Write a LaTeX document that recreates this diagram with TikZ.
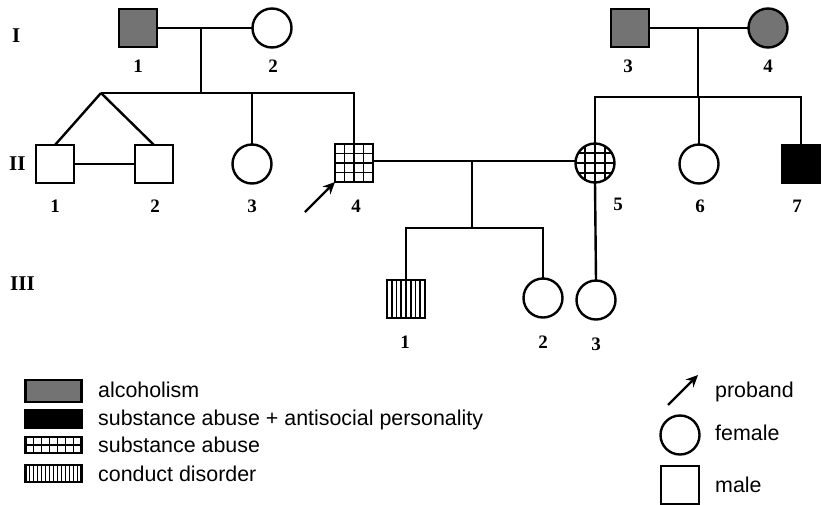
\documentclass[tikz,border=0pt]{standalone}
\usepackage{fontspec}
\setmainfont{Liberation Serif}
\setsansfont{Liberation Sans}
\usetikzlibrary{calc,arrows.meta}

\tikzset{
  ln/.style={line width=2.4pt},
  person/.style={draw, line width=2.4pt, inner sep=0pt, outer sep=0pt},
  male/.style={person, rectangle, minimum size=38pt},
  female/.style={person, circle, minimum size=39pt},
  alc/.style={fill=black!55},
  asp/.style={fill=black},
  % square grid of #1 columns and #2 rows
  gridfill/.style 2 args={path picture={
    \foreach \c in {1,...,\numexpr#1-1\relax}{
      \draw[line width=1.8pt]
        ($(path picture bounding box.north west)!{\c/#1}!(path picture bounding box.north east)$) --
        ($(path picture bounding box.south west)!{\c/#1}!(path picture bounding box.south east)$);}
    \foreach \r in {1,...,\numexpr#2-1\relax}{
      \draw[line width=1.8pt]
        ($(path picture bounding box.north west)!{\r/#2}!(path picture bounding box.south west)$) --
        ($(path picture bounding box.north east)!{\r/#2}!(path picture bounding box.south east)$);}
  }},
  % vertical stripes, #1 gaps
  stripefill/.style={path picture={
    \foreach \c in {1,...,\numexpr#1-1\relax}{
      \draw[line width=1.6pt]
        ($(path picture bounding box.north west)!{\c/#1}!(path picture bounding box.north east)$) --
        ($(path picture bounding box.south west)!{\c/#1}!(path picture bounding box.south east)$);}
  }},
  num/.style={font=\fontsize{19}{19}\selectfont\bfseries, anchor=base, inner sep=0pt},
  gen/.style={font=\fontsize{21}{21}\selectfont\bfseries, anchor=base west, inner sep=0pt},
  legtext/.style={font=\sffamily\fontsize{21.4}{21.4}\selectfont, anchor=base west, inner sep=0pt},
  legbox/.style={draw, line width=2.4pt, inner sep=0pt, minimum width=56pt},
  tip/.style={-{Stealth[length=12pt,width=11pt]}, line width=2.4pt},
}

\begin{document}
\begin{tikzpicture}[x=1pt,y=-1pt]
\useasboundingbox (0,0) rectangle (822,504);

% generation labels
\node[gen] (gI)   at (12,42)  {I};
\node[gen] (gII)  at (9,170)  {II};
\node[gen] (gIII) at (10,290) {III};

% generation I
\node[male, alc]   (i1) at (138,28) {};
\node[female]      (i2) at (272,28) {};
\node[male, alc]   (i3) at (630,28) {};
\node[female, alc] (i4) at (768,28) {};

% generation II
\node[male]   (ii1) at (55,164)  {};
\node[male]   (ii2) at (154,164) {};
\node[female] (ii3) at (252,164) {};
\node[male, gridfill={4}{4}]   (ii4) at (354,163) {};
\node[female, gridfill={4}{4}] (ii5) at (595,163) {};
\node[female] (ii6) at (699,164) {};
\node[male, asp] (ii7) at (801,164) {};

% generation III
\node[male, stripefill=8] (iii1) at (406,299) {};
\node[female] (iii2) at (543,298) {};
\node[female] (iii3) at (596,300) {};

% individual numbers
\node[num] (n11) at (138,72) {1};
\node[num] (n12) at (273,72) {2};
\node[num] (n13) at (628,72) {3};
\node[num] (n14) at (768,72) {4};
\node[num] (n21) at (55,212)  {1};
\node[num] (n22) at (155,212) {2};
\node[num] (n23) at (252,212) {3};
\node[num] (n24) at (356,212) {4};
\node[num] (n25) at (618,210) {5};
\node[num] (n26) at (700,212) {6};
\node[num] (n27) at (797,212) {7};
\node[num] (n31) at (405,348) {1};
\node[num] (n32) at (543,348) {2};
\node[num] (n33) at (596,350) {3};

% mating and sibship lines
\coordinate (m1) at (201,28);
\coordinate (s1) at (201,93);
\coordinate (tw) at (101,93);
\draw[ln] (i1) -- (i2);
\draw[ln] (m1) -- (s1);
\draw[ln] (tw) -- (ii4.north |- tw) -- (ii4.north);
\draw[ln] (ii3.north |- tw) -- (ii3.north);
\draw[ln] (tw) -- (ii1.north);
\draw[ln] (tw) -- (ii2.north);
\draw[ln] (ii1) -- (ii2);

\coordinate (m2) at (698,28);
\coordinate (s2) at (698,97);
\draw[ln] (i3) -- (i4);
\draw[ln] (m2) -- (s2);
\draw[ln] (ii5.north) -- (ii5.north |- s2) -- (ii7.north |- s2) -- (ii7.north);
\draw[ln] (ii6.north |- s2) -- (ii6.north);

\coordinate (m3) at (472,161);
\coordinate (s3) at (472,228);
\draw[ln] (ii4.east |- m3) -- (ii5.west |- m3);
\draw[ln] (m3) -- (s3);
\draw[ln] (iii1.north) -- (iii1.north |- s3) -- (iii2.north |- s3) -- (iii2.north);
\draw[ln] (ii5.south) -- (iii3.north);

% proband arrow
\coordinate (pa) at (305,212);
\draw[tip] (pa) -- (ii4.south west);

% legend, left column
\node[legbox, alc, minimum height=22pt] (k1) at (53.5,391) {};
\node[legbox, asp, minimum height=18pt] (k2) at (53.5,419) {};
\node[legbox, gridfill={7}{2}, minimum height=16pt] (k3) at (53.5,445) {};
\node[legbox, stripefill=14, minimum height=17pt] (k4) at (53.5,473.5) {};
\node[legtext] (t1) at (98,397) {alcoholism};
\node[legtext] (t2) at (98,425) {substance abuse + antisocial personality};
\node[legtext] (t3) at (98,452) {substance abuse};
\node[legtext] (t4) at (98,481) {conduct disorder};

% legend, right column
\coordinate (ka) at (668,405);
\coordinate (kb) at (698,375);
\draw[tip] (ka) -- (kb);
\node[female] (kf) at (680,435) {};
\node[male]   (km) at (680,485) {};
\node[legtext] (t5) at (715,397) {proband};
\node[legtext] (t6) at (715,440) {female};
\node[legtext] (t7) at (715,492) {male};
\end{tikzpicture}
\end{document}
